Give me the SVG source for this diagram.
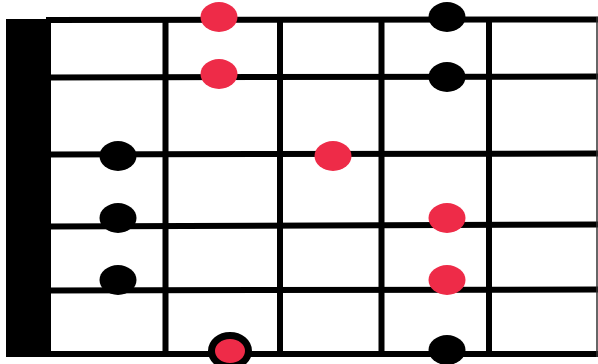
<svg xmlns="http://www.w3.org/2000/svg" width="598" height="364" viewBox="0 0 598 364">
  <style>
    .str { stroke: #000; stroke-width: 6; }
    .fret { stroke: #000; stroke-width: 6; }
    .red { fill: #ee2b48; }
    .blk { fill: #000; }
  </style>
  <rect x="0" y="0" width="598" height="364" fill="#fff"/>
  <g id="grid">
    <rect id="nut" x="6" y="19" width="45" height="338" fill="#000"/>
    <line class="str" x1="46" y1="20" x2="598" y2="19.5"/>
    <line class="str" x1="46" y1="77.5" x2="598" y2="76.5"/>
    <line class="str" x1="46" y1="154.5" x2="598" y2="153.5"/>
    <line class="str" x1="46" y1="226.5" x2="598" y2="224.5"/>
    <line class="str" x1="46" y1="290.5" x2="598" y2="289.5"/>
    <line class="str" x1="46" y1="354" x2="598" y2="354"/>
    <line class="fret" x1="165.5" y1="17" x2="165.5" y2="357"/>
    <line class="fret" x1="280" y1="17" x2="280" y2="357"/>
    <line class="fret" x1="381.5" y1="17" x2="381.5" y2="357"/>
    <line class="fret" x1="489" y1="17" x2="489" y2="357"/>
    <line x1="597" y1="17" x2="597" y2="357" stroke="#333" stroke-width="1.5"/>
  </g>
  <g id="dot-r1"><ellipse class="red" cx="219" cy="17" rx="18.5" ry="15"/></g>
  <g id="dot-r2"><ellipse class="red" cx="219" cy="74" rx="18.5" ry="15"/></g>
  <g id="dot-r3"><ellipse class="red" cx="333" cy="156" rx="18.5" ry="15"/></g>
  <g id="dot-r4"><ellipse class="red" cx="447" cy="218" rx="18.5" ry="15"/></g>
  <g id="dot-r5"><ellipse class="red" cx="447" cy="280" rx="18.5" ry="15"/></g>
  <g id="dot-root"><ellipse class="red" cx="230" cy="351" rx="18.5" ry="15.5" stroke="#000" stroke-width="7"/></g>
  <g id="dot-b1"><ellipse class="blk" cx="447" cy="17" rx="18.5" ry="15"/></g>
  <g id="dot-b2"><ellipse class="blk" cx="447" cy="77" rx="18.5" ry="15"/></g>
  <g id="dot-b3"><ellipse class="blk" cx="118" cy="156" rx="18.5" ry="15"/></g>
  <g id="dot-b4"><ellipse class="blk" cx="118" cy="218" rx="18.5" ry="15"/></g>
  <g id="dot-b5"><ellipse class="blk" cx="118" cy="280" rx="18.5" ry="15"/></g>
  <g id="dot-b6"><ellipse class="blk" cx="447" cy="350" rx="18.5" ry="15"/></g>
</svg>
